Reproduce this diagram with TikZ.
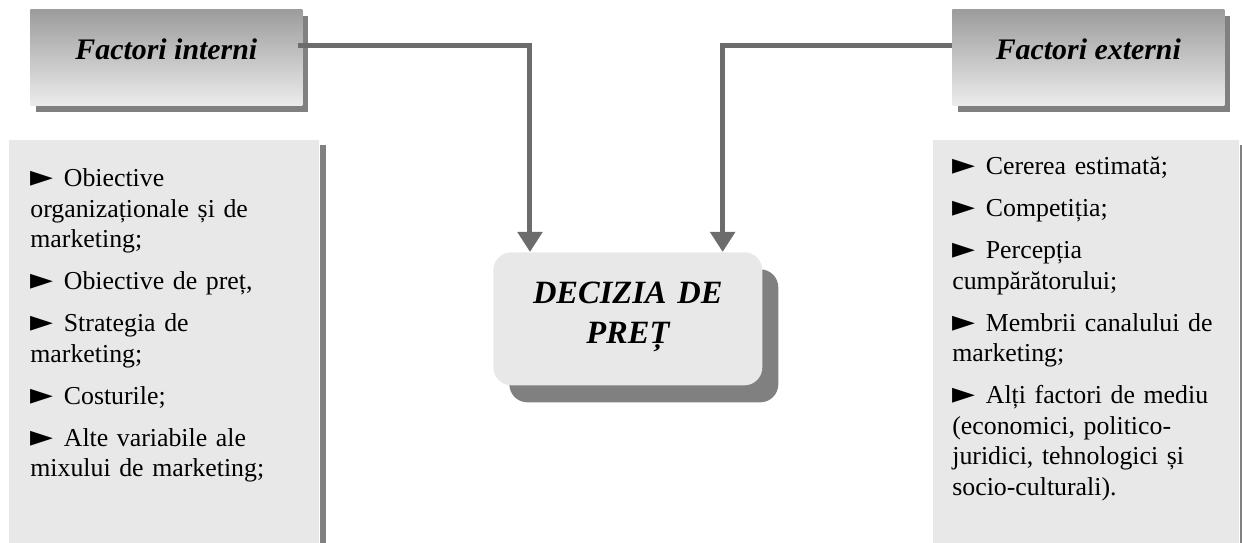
\documentclass[tikz,border=0pt]{standalone}
\usepackage{fontspec}
\setmainfont{Liberation Serif}
\newfontfamily\symfont{DejaVu Sans}
\usetikzlibrary{arrows.meta,shadows,calc}

\definecolor{boxgray}{RGB}{232,232,232}
\definecolor{shadegray}{RGB}{128,128,128}
\definecolor{linegray}{RGB}{108,108,108}
\definecolor{headtop}{RGB}{156,156,156}
\definecolor{headbot}{RGB}{236,236,236}

% bullet used in the two lists
\newcommand{\itemmark}{{\symfont\fontsize{17}{17}\selectfont ►}\hspace{6pt}}

\begin{document}
\begin{tikzpicture}[x=0.02cm,y=-0.02cm,
  headbox/.style={draw=none, shading=axis, top color=headtop, bottom color=headbot,
    general shadow={fill=shadegray, shadow xshift=0.12cm, shadow yshift=-0.13cm},
    minimum width=5.44cm, minimum height=1.93cm, anchor=north west, inner sep=0pt},
  headtext/.style={font=\bfseries\itshape\fontsize{17}{19}\selectfont, anchor=base, inner sep=0pt},
  listbox/.style={draw=none, fill=boxgray, anchor=north west, inner sep=0pt},
  listtext/.style={font=\fontsize{14.7}{0.61cm}\selectfont, text width=6cm, align=left,
    anchor=base west, inner sep=0pt},
  decbox/.style={draw=none, fill=boxgray, rounded corners=0.36cm,
    general shadow={fill=shadegray, shadow xshift=0.32cm, shadow yshift=-0.34cm},
    minimum width=5.38cm, minimum height=2.66cm, anchor=north west, inner sep=0pt},
  dectext/.style={font=\bfseries\itshape\fontsize{18.5}{0.8cm}\selectfont, text width=5cm,
    align=center, anchor=base, inner sep=0pt},
  conn/.style={draw=linegray, line width=0.1cm, miter limit=10,
    -{Triangle[width=0.48cm,length=0.4cm]}}
]
\useasboundingbox (0,0) rectangle (1242,543);

% heading boxes
\node[headbox] (hint) at (30,9) {};
\node[headtext] (tint) at ([yshift=-0.04cm]hint.center) {Factori interni};
\node[headbox] (hext) at (952,9) {};
\node[headtext] (text) at ([yshift=-0.04cm]hext.center) {Factori externi};

% list panels with their right-hand shadow strip
\node[listbox, minimum width=6.2cm, minimum height=8.06cm] (lbox) at (9,140) {};
\fill[shadegray] ([yshift=-0.1cm]lbox.north east) rectangle ([xshift=0.12cm]lbox.south east);
\node[listbox, minimum width=6.12cm, minimum height=8.06cm] (rbox) at (933,140) {};
\fill[shadegray] ([yshift=-0.1cm]rbox.north east) rectangle ([xshift=0.08cm]rbox.south east);

% central decision box
\node[decbox] (dec) at (493,252) {};
\node[dectext] (dtxt) at ([yshift=0.31cm]dec.center) {DECIZIA DE\\PREȚ};

% lists
\node[listtext] (lint) at (30,187) {%
\itemmark Obiective\\
organizaționale și de\\
marketing;\\[0.23cm]
\itemmark Obiective de preț,\\[0.23cm]
\itemmark Strategia de\\
marketing;\\[0.23cm]
\itemmark Costurile;\\[0.23cm]
\itemmark Alte variabile ale\\
mixului de marketing;};

\node[listtext] (lext) at (952,175) {%
\itemmark Cererea estimată;\\[0.23cm]
\itemmark Competiția;\\[0.23cm]
\itemmark Percepția\\
cumpărătorului;\\[0.23cm]
\itemmark Membrii canalului de\\
marketing;\\[0.23cm]
\itemmark Alți factori de mediu\\
(economici, politico-\\
juridici, tehnologici și\\
socio-culturali).};

% connectors
\draw[conn] ([yshift=0.24cm,xshift=-0.1cm]hint.east) -| ([xshift=0.74cm]dec.north west);
\draw[conn] ([yshift=0.24cm]hext.west) -| ([xshift=-0.8cm]dec.north east);
\end{tikzpicture}
\end{document}
